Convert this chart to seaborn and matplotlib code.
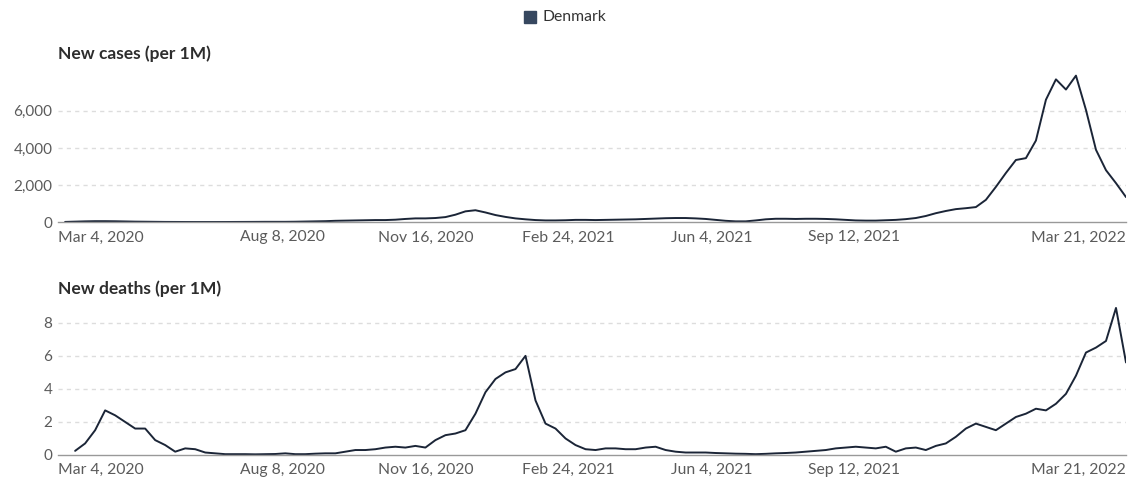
import numpy as np
import pandas as pd
import matplotlib
matplotlib.use("Agg")
import matplotlib.pyplot as plt
import seaborn as sns

# weekly points, last point on Mar 21, 2022
dates = pd.date_range(end="2022-03-21", periods=107, freq="7D")

new_cases = [
    10, 25, 40, 50, 50, 45, 35, 25, 20, 15, 10,
    8, 6, 5, 5, 5, 6, 8, 10, 12, 15,
    15, 15, 20, 30, 40, 50, 70, 80, 90, 100,
    110, 110, 130, 170, 200, 200, 220, 270, 400, 580,
    640, 520, 380, 280, 200, 150, 110, 90, 90, 100,
    120, 120, 110, 120, 130, 140, 150, 170, 190, 210,
    220, 220, 200, 170, 120, 70, 40, 40, 90, 150,
    180, 180, 170, 180, 180, 170, 150, 120, 90, 80,
    80, 100, 120, 160, 220, 330, 480, 600, 700, 750,
    810, 1200, 1900, 2650, 3350, 3450, 4400, 6600, 7700, 7150,
    7900, 6050, 3900, 2800, 2100, 1350,
]

new_deaths = [
    np.nan, 0.25, 0.7, 1.5, 2.7, 2.4, 2.0, 1.6, 1.6, 0.9, 0.6,
    0.2, 0.4, 0.35, 0.15, 0.1, 0.05, 0.05, 0.05, 0.04, 0.05,
    0.06, 0.1, 0.05, 0.05, 0.08, 0.1, 0.1, 0.2, 0.3, 0.3,
    0.35, 0.45, 0.5, 0.45, 0.55, 0.45, 0.9, 1.2, 1.3, 1.5,
    2.5, 3.8, 4.6, 5.0, 5.2, 6.0, 3.3, 1.9, 1.6, 1.0,
    0.6, 0.35, 0.3, 0.4, 0.4, 0.35, 0.35, 0.45, 0.5, 0.3,
    0.2, 0.15, 0.15, 0.15, 0.12, 0.1, 0.08, 0.07, 0.05, 0.07,
    0.1, 0.12, 0.15, 0.2, 0.25, 0.3, 0.4, 0.45, 0.5, 0.45,
    0.4, 0.5, 0.2, 0.4, 0.45, 0.3, 0.55, 0.7, 1.1, 1.6,
    1.9, 1.7, 1.5, 1.9, 2.3, 2.5, 2.8, 2.7, 3.1, 3.7,
    4.8, 6.2, 6.5, 6.9, 8.9, 5.6,
]

tick_dates = pd.to_datetime(["2020-03-04", "2020-08-08", "2020-11-16", "2021-02-24",
                             "2021-06-04", "2021-09-12", "2022-03-21"])
tick_labels = ["Mar 4, 2020", "Aug 8, 2020", "Nov 16, 2020", "Feb 24, 2021",
               "Jun 4, 2021", "Sep 12, 2021", "Mar 21, 2022"]

cases_ticks = [0, 2000, 4000, 6000]
cases_tick_labels = ["0", "2,000", "4,000", "6,000"]
deaths_ticks = [0, 2, 4, 6, 8]

df = pd.DataFrame({"date": dates, "cases": new_cases, "deaths": new_deaths})

sns.set_theme(style="white")
plt.rcParams["font.family"] = ["Lato", "DejaVu Sans"]

line_color = "#1b2537"
text_grey = "#5b5b5b"

fig = plt.figure(figsize=(11.32, 4.86), dpi=100)
ax1 = fig.add_axes([0.0512, 0.543, 0.9435, 0.309])
ax2 = fig.add_axes([0.0512, 0.0638, 0.9435, 0.3128])

panels = [
    (ax1, "cases", (0, 8100), cases_ticks, cases_tick_labels, "New cases (per 1M)", 0.889),
    (ax2, "deaths", (0, 9.2), deaths_ticks, [str(t) for t in deaths_ticks], "New deaths (per 1M)", 0.405),
]

for ax, col, ylim, yt, ytl, title, ty in panels:
    sns.lineplot(data=df, x="date", y=col, ax=ax, color=line_color, linewidth=1.4)
    ax.set_xlim(tick_dates[0], tick_dates[-1])
    ax.set_ylim(*ylim)
    ax.set_yticks(yt)
    ax.set_yticklabels(ytl)
    ax.set_xticks(tick_dates)
    ax.set_xticklabels(tick_labels)
    labels = ax.get_xticklabels()
    labels[0].set_ha("left")
    labels[-1].set_ha("right")
    ax.set_xlabel("")
    ax.set_ylabel("")
    for s in ["top", "right", "left"]:
        ax.spines[s].set_visible(False)
    ax.spines["bottom"].set_color("#999999")
    ax.spines["bottom"].set_linewidth(1)
    ax.tick_params(axis="x", length=5, width=1, color="#999999", labelsize=11.3,
                   labelcolor=text_grey, pad=1)
    ax.tick_params(axis="y", length=0, labelsize=11, labelcolor=text_grey, pad=4)
    for t in yt[1:]:
        ax.axhline(t, color="#dddddd", linestyle=(0, (3, 3)), linewidth=1, zorder=0)
    fig.text(0.0512, ty, title, fontsize=12.5, fontweight="bold", color="#2d2d2d",
             ha="left", va="center")

# legend
fig.patches.append(plt.Rectangle((524 / 1132, 1 - 23 / 486), 12 / 1132, 12 / 486,
                                 transform=fig.transFigure, color="#36475f"))
fig.text(542 / 1132, 1 - 17 / 486, "Denmark", fontsize=11.3, color="#333333",
         ha="left", va="center")

fig.savefig("out.png", dpi=100)
